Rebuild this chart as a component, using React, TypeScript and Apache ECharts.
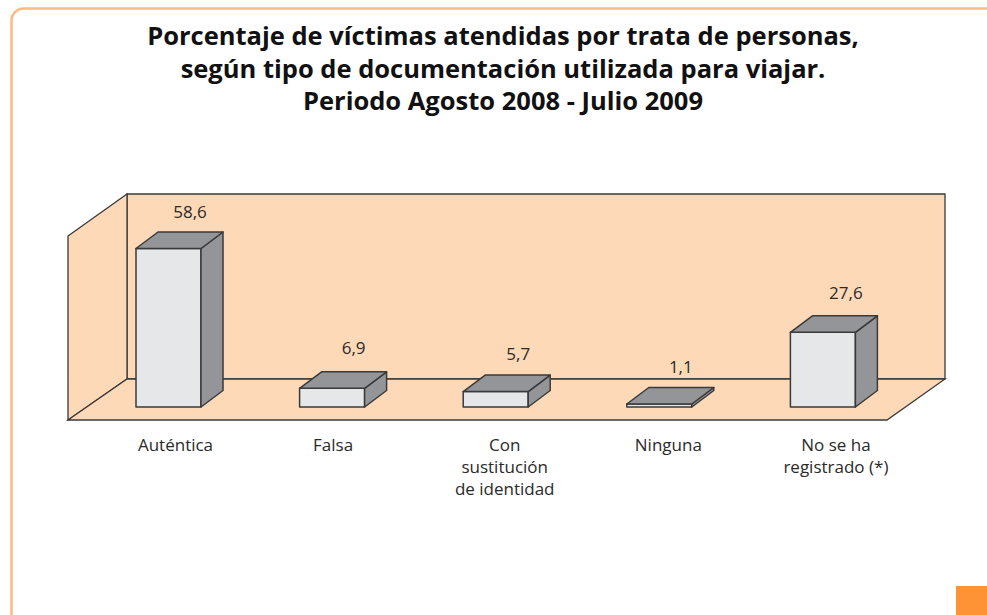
import React, { useEffect, useRef } from "react";
import * as echarts from "echarts";

const titleLines = [
  "Porcentaje de víctimas atendidas por trata de personas,",
  "según tipo de documentación utilizada para viajar.",
  "Periodo Agosto 2008 - Julio 2009",
];
const categories = ["Auténtica", "Falsa", "Con\nsustitución\nde identidad", "Ninguna", "No se ha\nregistrado (*)"];
const values = [58.6, 6.9, 5.7, 1.1, 27.6];
const valueLabels = ["58,6", "6,9", "5,7", "1,1", "27,6"];
const labelShift = [7, 1, 9, 9, 13];
const valueLabelRise = [36.5, 41, 38, 38, 40];
const valueLabelShift = [21.5, 21.5, 22.5, 21.5, 23];

const BODY_FONT = "'Open Sans', sans-serif";
const STROKE = "#3a3a3a";
const DEPTH_X = 22;
const DEPTH_Y = 16.5;
const BAR_W = 65;

export default function App() {
  const ref = useRef<HTMLDivElement>(null);
  useEffect(() => {
    const chart = echarts.init(ref.current!, null, { renderer: "svg" });
    const wall = { fill: "#fdd9b8", stroke: STROKE, lineWidth: 1.3 };
    chart.setOption({
      animation: false,
      backgroundColor: "#ffffff",
      title: {
        text: titleLines.join("\n"),
        left: 498,
        top: 14,
        textAlign: "center",
        textStyle: { fontFamily: "'Open Sans', sans-serif", fontWeight: "bold", fontSize: 25.5, lineHeight: 32.5, color: "#111111" },
      },
      grid: { left: 86.7, width: 818, top: 244.7, height: 162.3 },
      xAxis: {
        type: "category",
        data: categories.map((c, i) => ({
          value: c,
          textStyle: { padding: [0, 0, 0, labelShift[i] * 2] },
        })),
        axisLine: { show: false },
        axisTick: { show: false },
        axisLabel: { interval: 0, margin: 26, fontFamily: BODY_FONT, fontSize: 17, lineHeight: 22, color: "#2a2a2a" },
      },
      yAxis: { type: "value", min: 0, max: 60, show: false, splitLine: { show: false } },
      graphic: [
        { type: "rect", z: 0, shape: { x: 11.5, y: 8.5, width: 1100, height: 800, r: 12 }, style: { fill: "#ffffff", stroke: "#fdbb80", lineWidth: 2.5 } },
        { type: "polygon", z: 1, shape: { points: [[127, 194], [945, 194], [945, 379], [127, 379]] }, style: wall },
        { type: "polygon", z: 1, shape: { points: [[68, 236], [127, 194], [127, 379], [68, 420]] }, style: wall },
        { type: "polygon", z: 1, shape: { points: [[68, 420], [127, 379], [945, 379], [887, 420]] }, style: wall },
        { type: "rect", z: 1, shape: { x: 956, y: 586, width: 31, height: 29 }, style: { fill: "#fd9335" } },
      ],
      series: [
        {
          type: "custom",
          z: 5,
          clip: false,
          data: values.map((v, i) => [i, v]),
          renderItem: (_p: any, api: any) => {
            const top = api.coord([api.value(0), api.value(1)]);
            const base = api.coord([api.value(0), 0]);
            const l = top[0] - BAR_W / 2;
            const r = top[0] + BAR_W / 2;
            const line = { stroke: STROKE, lineWidth: 1.5, lineJoin: "round" };
            const i = api.value(0);
            return {
              type: "group",
              children: [
                { type: "polygon", shape: { points: [[l, top[1]], [r, top[1]], [r, base[1]], [l, base[1]]] }, style: { fill: "#e6e7e8", ...line } },
                { type: "polygon", shape: { points: [[r, top[1]], [r + DEPTH_X, top[1] - DEPTH_Y], [r + DEPTH_X, base[1] - DEPTH_Y], [r, base[1]]] }, style: { fill: "#939598", ...line } },
                { type: "polygon", shape: { points: [[l, top[1]], [l + DEPTH_X, top[1] - DEPTH_Y], [r + DEPTH_X, top[1] - DEPTH_Y], [r, top[1]]] }, style: { fill: "#939598", ...line } },
                {
                  type: "text",
                  style: {
                    text: valueLabels[i],
                    x: top[0] + valueLabelShift[i],
                    y: top[1] - valueLabelRise[i],
                    align: "center",
                    verticalAlign: "middle",
                    fontFamily: BODY_FONT,
                    fontSize: 17,
                    fill: "#2a2a2a",
                  },
                },
              ],
            };
          },
        },
      ],
    });
    return () => chart.dispose();
  }, []);
  return <div ref={ref} style={{ position: "fixed", left: 0, top: 0, width: 987, height: 615 }} />;
}
